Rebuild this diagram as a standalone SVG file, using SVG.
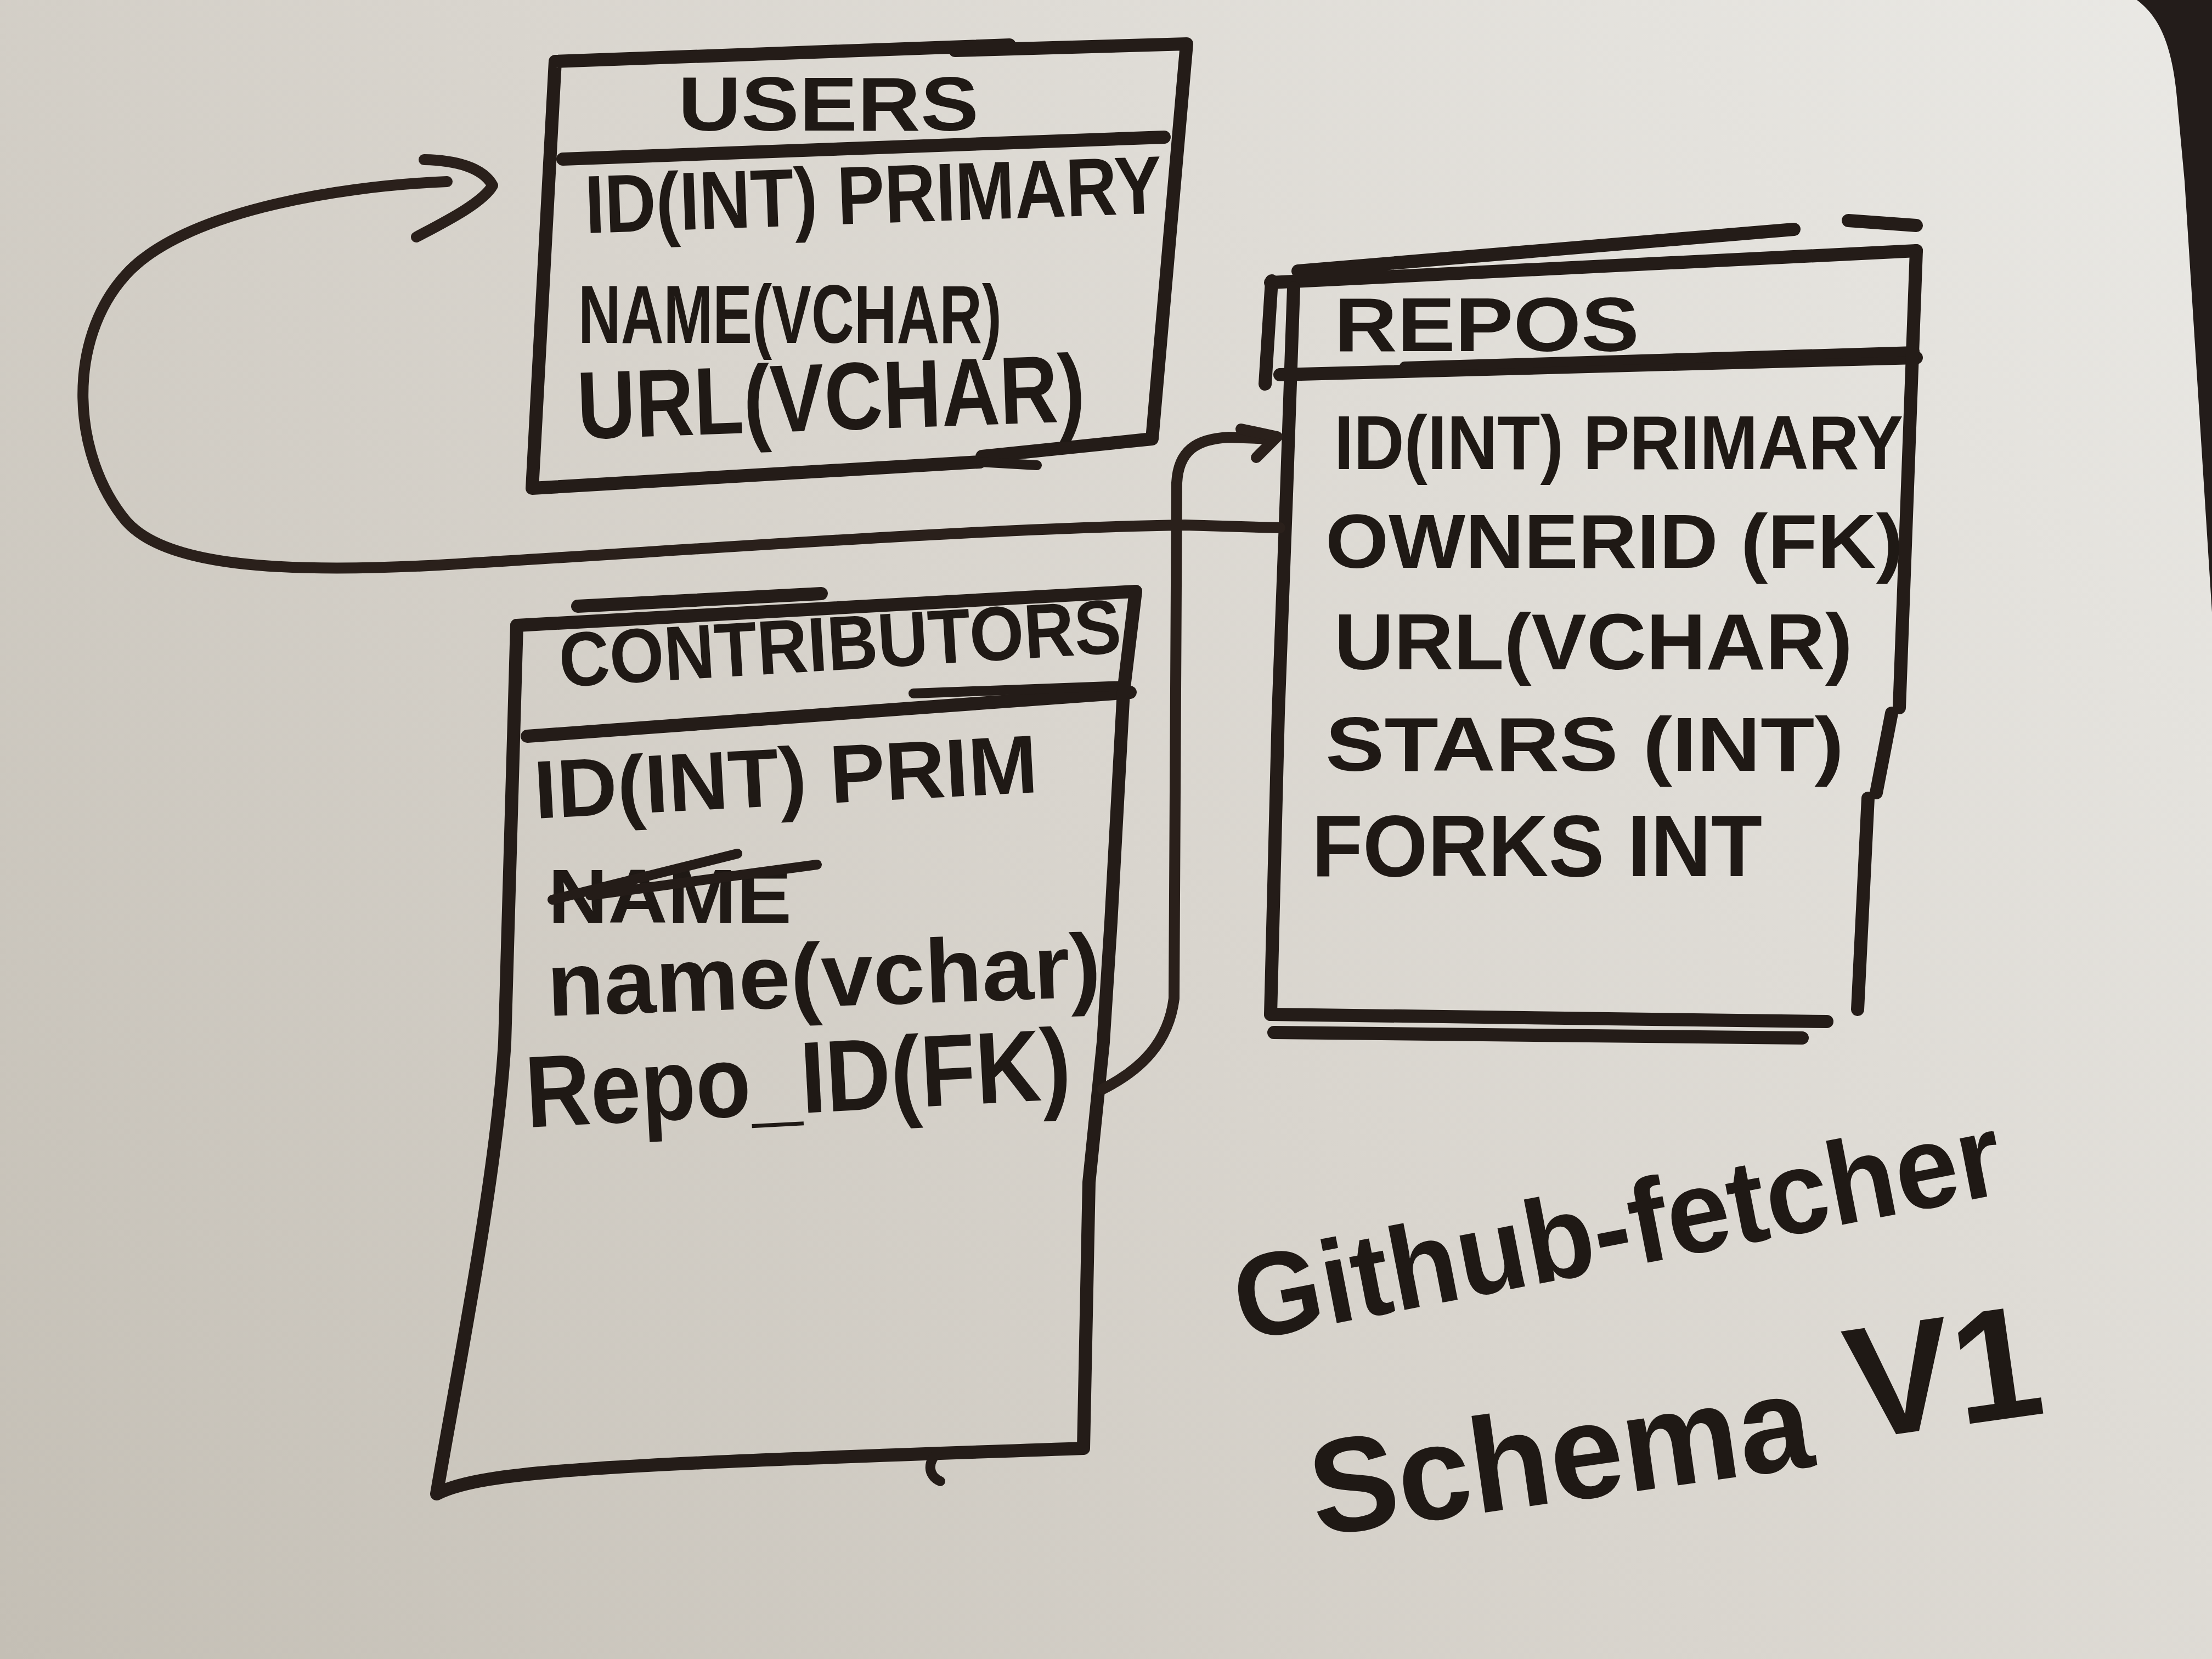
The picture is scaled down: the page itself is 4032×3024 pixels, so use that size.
<svg xmlns="http://www.w3.org/2000/svg" width="4032" height="3024" viewBox="0 0 4032 3024">
<defs>
<linearGradient id="bg" x1="4032" y1="0" x2="0" y2="3024" gradientUnits="userSpaceOnUse">
<stop offset="0" stop-color="#eae9e5"/>
<stop offset="0.5" stop-color="#d9d5ce"/>
<stop offset="1" stop-color="#c4bfb5"/>
</linearGradient>
<style>
.ink{fill:none;stroke:#241c18;stroke-width:24;stroke-linecap:round;stroke-linejoin:round}
.thin{fill:none;stroke:#241c18;stroke-width:18;stroke-linecap:round;stroke-linejoin:round}
.conn{fill:none;stroke:#2a201b;stroke-width:20;stroke-linecap:round;stroke-linejoin:round}
.t{font-family:"Liberation Sans",Arial,sans-serif;font-weight:bold;fill:#1f1915}
</style>
</defs>
<rect x="0" y="0" width="4032" height="3024" fill="url(#bg)"/>
<path d="M3895 0 C3935 30 3962 80 3970 200 L3982 330 L4032 1116 L4032 0 Z" fill="#231c1a"/>

<g id="users">
<path class="ink" d="M1012 112 L1840 82 M1741 92 L2163 80 L2100 800 L1790 832 M1786 842 L970 890 L1012 112"/>
<path class="thin" d="M1786 842 L1890 848"/>
<path class="ink" d="M1026 290 L2122 250"/>
<text class="t" x="1236" y="238" font-size="140" textLength="548" lengthAdjust="spacingAndGlyphs">USERS</text>
<text class="t" x="1068" y="425" font-size="150" textLength="1052" lengthAdjust="spacingAndGlyphs" transform="rotate(-2 1068 425)">ID(INT) PRIMARY</text>
<text class="t" x="1054" y="625" font-size="150" textLength="772" lengthAdjust="spacingAndGlyphs">NAME(VCHAR)</text>
<text class="t" x="1054" y="800" font-size="175" textLength="926" lengthAdjust="spacingAndGlyphs" transform="rotate(-2 1054 800)">URL(VCHAR)</text>
</g>

<g id="repos">
<path class="ink" d="M2316 515 L3493 457 M2366 494 L3270 418 M3369 402 L3493 411"/>
<path class="ink" d="M2333 683 L3493 652"/>
<path class="thin" d="M2560 668 L3490 640"/>
<path class="ink" d="M2358 525 L2345 900 L2330 1300 L2316 1849 M2318 512 L2306 700"/>
<path class="ink" d="M3493 457 L3462 1290 M3448 1300 L3420 1445 M3405 1455 L3386 1840"/>
<path class="ink" d="M2316 1849 L3330 1862 M2322 1882 L3285 1892"/>
<text class="t" x="2432" y="640" font-size="140" textLength="556" lengthAdjust="spacingAndGlyphs">REPOS</text>
<text class="t" x="2432" y="855" font-size="140" textLength="1037" lengthAdjust="spacingAndGlyphs">ID(INT) PRIMARY</text>
<text class="t" x="2416" y="1035" font-size="140" textLength="1053" lengthAdjust="spacingAndGlyphs">OWNERID (FK)</text>
<text class="t" x="2432" y="1220" font-size="145" textLength="945" lengthAdjust="spacingAndGlyphs">URL(VCHAR)</text>
<text class="t" x="2416" y="1405" font-size="140" textLength="945" lengthAdjust="spacingAndGlyphs">STARS (INT)</text>
<text class="t" x="2391" y="1597" font-size="160" textLength="821" lengthAdjust="spacingAndGlyphs">FORKS INT</text>
</g>

<g id="contributors">
<path class="ink" d="M942 1140 L2070 1078 M1053 1105 L1497 1082"/>
<path class="ink" d="M961 1342 L2060 1262"/>
<path class="thin" d="M1665 1264 L2050 1250"/>
<path class="ink" d="M942 1140 C936 1400 928 1650 920 1900 C905 2150 830 2520 796 2723 C880 2680 1100 2670 1975 2640 L1985 2155 L2011 1900 L2025 1681 L2048 1260 L2070 1078"/>
<path class="thin" d="M1712 2646 C1690 2662 1690 2690 1714 2700"/>
<text class="t" x="1022" y="1252" font-size="140" textLength="1026" lengthAdjust="spacingAndGlyphs" transform="rotate(-3.5 1022 1252)">CONTRIBUTORS</text>
<text class="t" x="976" y="1492" font-size="150" textLength="919" lengthAdjust="spacingAndGlyphs" transform="rotate(-3 976 1492)">ID(INT) PRIM</text>
<text class="t" x="999" y="1682" font-size="140" textLength="444" lengthAdjust="spacingAndGlyphs">NAME</text>
<path class="thin" d="M1007 1640 L1344 1556 M1076 1632 L1489 1576"/>
<text class="t" x="999" y="1852" font-size="165" textLength="1010" lengthAdjust="spacingAndGlyphs" transform="rotate(-2 999 1852)">name(vchar)</text>
<text class="t" x="961" y="2055" font-size="185" textLength="995" lengthAdjust="spacingAndGlyphs" transform="rotate(-3 961 2055)">Repo_ID(FK)</text>
</g>

<g id="connectors">
<path class="conn" d="M2333 962 L2160 957 C1800 962 1300 1000 800 1030 C500 1046 300 1030 230 950 C130 830 120 620 230 500 C330 390 600 340 815 331"/>
<path class="conn" d="M773 291 C830 292 880 305 898 338 C880 370 810 405 759 432"/>
<path class="conn" d="M2010 1985 C2080 1950 2130 1900 2140 1820 L2145 880 C2148 822 2180 800 2240 797 L2318 800"/>
<path class="conn" d="M2262 782 L2328 796 L2290 834"/>
</g>

<g id="title">
<text class="t" x="2265" y="2445" font-size="215" textLength="1420" lengthAdjust="spacingAndGlyphs" transform="rotate(-11 2265 2445)">Github-fetcher</text>
<text class="t" font-size="245" transform="rotate(-8 2400 2800)"><tspan x="2400" y="2800" textLength="920" lengthAdjust="spacingAndGlyphs">Schema</tspan><tspan x="3396" y="2763" font-size="290">V1</tspan></text>
</g>
</svg>
